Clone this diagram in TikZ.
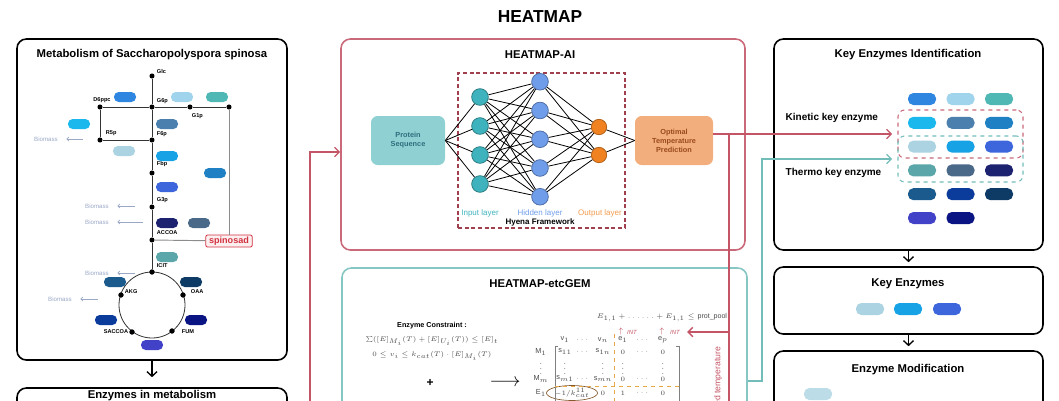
\documentclass[tikz,border=0pt]{standalone}
\usepackage{amsmath}
\usepackage{amssymb}
\usepackage{fontspec}
\setmainfont{Liberation Sans}
\setsansfont{Liberation Sans}
\usepackage{tikz}
\usetikzlibrary{arrows.meta,shapes.geometric}

\newcommand{\fsz}[1]{\fontsize{#1}{\fpeval{1.22*#1}}\selectfont}

\definecolor{aired}{HTML}{C9697A}
\definecolor{gemteal}{HTML}{86C7C3}
\definecolor{lnred}{HTML}{C45566}
\definecolor{lnteal}{HTML}{72BDBA}
\definecolor{psfill}{HTML}{8FD0D2}
\definecolor{pstext}{HTML}{2F6E7E}
\definecolor{optfill}{HTML}{F2AE7C}
\definecolor{opttext}{HTML}{9A4A1E}
\definecolor{inpc}{HTML}{3FB3BD}
\definecolor{hidc}{HTML}{6F9DEA}
\definecolor{outc}{HTML}{F08222}
\definecolor{hyena}{HTML}{A0404E}
\definecolor{bmgray}{HTML}{9AA8C6}
\definecolor{spinred}{HTML}{D2323F}
\definecolor{mtxgray}{HTML}{4A4A4A}
\definecolor{sepor}{HTML}{E6A84A}
% enzyme colours
\definecolor{ez1}{HTML}{2F86E0}
\definecolor{ez2}{HTML}{9FD4EC}
\definecolor{ez3}{HTML}{4FB8B4}
\definecolor{ez4}{HTML}{1AB8EC}
\definecolor{ez5}{HTML}{4A7FAE}
\definecolor{ez6}{HTML}{1F80C4}
\definecolor{ez7}{HTML}{ABD3E2}
\definecolor{ez8}{HTML}{16A2E4}
\definecolor{ez9}{HTML}{3D66DC}
\definecolor{ez10}{HTML}{5AA6A8}
\definecolor{ez11}{HTML}{4A6888}
\definecolor{ez12}{HTML}{1C2170}
\definecolor{ez13}{HTML}{1A5A8C}
\definecolor{ez14}{HTML}{0B3C9C}
\definecolor{ez15}{HTML}{0E3A66}
\definecolor{ez16}{HTML}{4242C8}
\definecolor{ez17}{HTML}{0A1482}

\tikzset{
  panel/.style={draw, line width=1.2pt, rounded corners=7pt, inner sep=0pt},
  ttl/.style={font=\bfseries\fsz{8.5}},
  mpill/.style={rounded corners=3.5pt, minimum width=16.5pt, minimum height=7.5pt, inner sep=0pt},
  gpill/.style={rounded corners=4pt, minimum width=21pt, minimum height=9pt, inner sep=0pt},
  met/.style={circle, fill=black, inner sep=0pt, minimum size=3.8pt},
  mlbl/.style={font=\bfseries\fsz{4.2}, inner sep=0.5pt},
  mline/.style={draw=black!80, line width=0.6pt},
  gline/.style={draw=black!45, line width=0.7pt},
  bmtxt/.style={text=bmgray, font=\fsz{4.6}},
  bmarr/.style={draw=bmgray, line width=0.5pt, -{Straight Barb[length=1.4pt,width=3pt]}, shorten >=3pt},
  nnline/.style={draw=black, line width=0.6pt},
  neuron/.style={circle, draw, line width=0.6pt, inner sep=0pt, minimum size=12.5pt},
  darr/.style={line width=1pt, -{Straight Barb[length=3.5pt,width=7.5pt]}},
  redline/.style={draw=lnred, line width=1pt},
  redarr/.style={draw=lnred, line width=1pt, -{Straight Barb[length=3.5pt,width=7pt]}},
  tealarr/.style={draw=lnteal, line width=1pt, -{Straight Barb[length=3.5pt,width=7pt]}},
  grp/.style={dashed, line width=0.8pt, rounded corners=5pt, minimum width=93.75pt, inner sep=0pt},
  mtx/.style={text=mtxgray, font=\fsz{5.5}, inner sep=0.5pt},
}

\begin{document}
\begin{tikzpicture}[x=0.75pt,y=-0.75pt]
    \useasboundingbox (0,0) rectangle (1059,400);
    \clip (0,0) rectangle (1059,400);

    \node[font=\bfseries\fsz{13}] (title) at (540,17) {HEATMAP};

    % Panels
    \node[panel, minimum width=202.5pt, minimum height=240.75pt] (metab) at (152,199.5) {};
    \node[panel, minimum width=202.5pt, minimum height=99pt] (enzmet) at (152,454) {};
    \node[panel, draw=aired, minimum width=303pt, minimum height=158.25pt] (ai) at (543,144.5) {};
    \node[panel, draw=gemteal, minimum width=303.75pt, minimum height=189pt] (gem) at (544.5,394) {};
    \node[panel, minimum width=201.75pt, minimum height=158.25pt] (kid) at (908.5,144.5) {};
    \node[panel, minimum width=201.75pt, minimum height=50.25pt] (key) at (908.5,300.5) {};
    \node[panel, minimum width=201.75pt, minimum height=96.75pt] (mod) at (908.5,415.5) {};

    \node[ttl] (metab-t) at (152,55) {Metabolism of Saccharopolyspora spinosa};
    \node[ttl] (enzmet-t) at (152,395.5) {Enzymes in metabolism};
    \node[ttl] (ai-t) at (540,55) {HEATMAP-AI};
    \node[ttl] (gem-t) at (540,284) {HEATMAP-etcGEM};
    \node[ttl] (kid-t) at (908,55) {Key Enzymes Identification};
    \node[ttl] (key-t) at (908,284) {Key Enzymes};
    \node[ttl] (mod-t) at (908,370) {Enzyme Modification};

    \draw[darr, shorten >=7.5pt] (metab.south) -- (enzmet.north);
    \draw[darr, shorten >=3pt] (kid.south) -- (key.north);
    \draw[darr, shorten >=3pt] (key.south) -- (mod.north);

    % Metabolic network
    \node[met] (glc) at (152,76) {};
    \node[met] (g6p) at (152,107) {};
    \node[met] (d6ppc) at (100,107) {};
    \node[met] (g1p) at (190,107) {};
    \node[met] (rt) at (229,107) {};
    \node[met] (r5p) at (100,140) {};
    \node[met] (f6p) at (152,140) {};
    \node[met] (fbp) at (152,173) {};
    \node[met] (g3p) at (152,207) {};
    \node[met] (accoa) at (152,240) {};
    \node[met] (icit) at (152,272) {};
    \node[met] (akg) at (121,295) {};
    \node[met] (oaa) at (183,295) {};
    \node[met] (saccoa) at (132,332) {};
    \node[met] (fum) at (172,331) {};
    \coordinate (tca) at (152,305);
    \node[draw=spinred, fill=spinred!8, text=spinred, font=\bfseries\fsz{6.8}, rounded corners=1.5pt,
          inner xsep=2.5pt, inner ysep=1.4pt, line width=0.6pt] (spin) at (229,241) {spinosad};

    \draw[mline] (glc) -- (g6p) -- (f6p) -- (fbp) -- (g3p) -- (accoa) -- (icit);
    \draw[mline] (d6ppc) -- (g6p) -- (g1p) -- (rt);
    \draw[mline] (d6ppc) -- (r5p) -- (f6p);
    \draw[gline] (rt) -- (spin);
    \draw[gline] (accoa) -- (spin);
    \draw[mline] (tca) circle (33);
    \foreach \m in {akg,oaa,saccoa,fum,icit}
        \node[met] at (\m) {};

    \node[mlbl, anchor=west] (l-glc) at (156,71) {Glc};
    \node[mlbl, anchor=west] (l-g6p) at (156,101) {G6p};
    \node[mlbl] (l-d6ppc) at (102,100) {D6ppc};
    \node[mlbl, anchor=west] (l-g1p) at (191,116) {G1p};
    \node[mlbl, anchor=west] (l-r5p) at (105,133) {R5p};
    \node[mlbl, anchor=west] (l-f6p) at (156,134) {F6p};
    \node[mlbl, anchor=west] (l-fbp) at (156,164) {Fbp};
    \node[mlbl, anchor=west] (l-g3p) at (156,200) {G3p};
    \node[mlbl, anchor=west] (l-accoa) at (156,233) {ACCOA};
    \node[mlbl, anchor=west] (l-icit) at (156,266) {ICIT};
    \node[mlbl, anchor=west] (l-akg) at (124,292) {AKG};
    \node[mlbl, anchor=west] (l-oaa) at (190,292) {OAA};
    \node[mlbl, anchor=east] (l-saccoa) at (129,332) {SACCOA};
    \node[mlbl, anchor=west] (l-fum) at (181,332) {FUM};

    % Enzymes on the network
    \foreach \x/\y/\k in {125/97/1, 182/97/2, 217/97/3, 79/124/4, 167/124/5, 215/173/6,
                          124/151/7, 167/156/8, 167/187/9, 167/257/10, 199/223/11, 167/223/12,
                          115/282/13, 106/320/14, 191/282/15, 152/345/16, 196/320/17}
        \node[mpill, fill=ez\k] (m\k) at (\x,\y) {};

    % Biomass drains
    \foreach \tx/\ax/\y [count=\k] in {46/83/139, 97/135/206, 97/143/222, 97/135/273, 60/98/299} {
        \node[bmtxt] (bm\k) at (\tx,\y) {Biomass};
        \coordinate (bms\k) at (\ax,\y);
        \draw[bmarr] (bms\k) -- (bm\k);
    }

    % HEATMAP-AI
    \node[draw=hyena, densely dashed, line width=0.8pt, minimum width=125.25pt, minimum height=116.25pt]
        (hyena) at (541.5,150.5) {};
    \node[fill=psfill, rounded corners=5pt, minimum width=55.5pt, minimum height=36.75pt, align=center,
          text=pstext, font=\bfseries\fsz{5.5}] (ps) at (408,140.5) {Protein\\Sequence};
    \node[fill=optfill, rounded corners=5pt, minimum width=58.5pt, minimum height=36.75pt, align=center,
          text=opttext, font=\bfseries\fsz{5.5}] (opt) at (674,140.5) {Optimal\\Temperature\\Prediction};

    \foreach \k in {1,...,4}
        \node[neuron, fill=inpc, draw=inpc!70!black] (i\k) at (480,68+29*\k) {};
    \foreach \k in {1,...,5}
        \node[neuron, fill=hidc, draw=hidc!70!black] (h\k) at (540,53+28.75*\k) {};
    \foreach \k in {1,2}
        \node[neuron, fill=outc, draw=outc!75!black, minimum size=11.5pt] (o\k) at (599,99+28*\k) {};

    \foreach \a in {1,...,4} {
        \draw[nnline] (ps.east) -- (i\a);
        \foreach \b in {1,...,5}
            \draw[nnline] (i\a) -- (h\b);
    }
    \foreach \b in {1,...,5}
        \foreach \c in {1,2}
            \draw[nnline] (h\b) -- (o\c);
    \foreach \c in {1,2}
        \draw[nnline] (o\c) -- (opt.west);

    \node[text=inpc, font=\fsz{6}] (inl) at (480,213) {Input layer};
    \node[text=hidc, font=\fsz{6}] (hidl) at (540,213) {Hidden layer};
    \node[text=outc!80, font=\fsz{6}] (outl) at (600,213) {Output layer};
    \node[font=\bfseries\fsz{6}] (hyl) at (540,222) {Hyena Framework};

    % HEATMAP-etcGEM
    \node[font=\bfseries\fsz{5.4}] (ec) at (432,326) {Enzyme Constraint :};
    \node[text=mtxgray, font=\fsz{4.5}] (eq1) at (432,341) {$\sum([E]_{M_i}(T)+[E]_{U_i}(T))\le[E]_t$};
    \node[text=mtxgray, font=\fsz{4.5}] (eq2) at (432,356) {$0\le v_i\le k_{cat}(T)\cdot[E]_{M_i}(T)$};
    \node[font=\bfseries\fsz{9}] (plus) at (430,383) {+};
    \node[font=\fsz{14}] (garr) at (505,383) {$\longrightarrow$};

    \node[text=mtxgray, font=\fsz{5.3}] (pool) at (662,318) {$E_{1,1}+\ldots\ldots+E_{1,1}\le\mathrm{prot\_pool}$};
    \node[text=lnred, font=\fsz{6}] (up1) at (621,331) {$\uparrow$};
    \node[text=lnred, font=\itshape\fsz{4.5}] (int1) at (632,332) {INT};
    \node[text=lnred, font=\fsz{6}] (up2) at (662,331) {$\uparrow$};
    \node[text=lnred, font=\itshape\fsz{4.5}] (int2) at (675,332) {INT};

    \foreach \x/\e [count=\k] in {565/{\mathsf{v}_1}, 583/\cdots, 603/{\mathsf{v}_n}, 623/{\mathsf{e}_1}, 643/\cdots, 663/{\mathsf{e}_p}}
        \node[mtx] (hd\k) at (\x,340) {$\e$};
    \foreach \x/\e [count=\k] in {541/{\mathsf{M}_1}, 565/{\mathsf{s}_{11}}, 583/\cdots, 603/{\mathsf{s}_{1n}}, 623/0, 643/\cdots, 663/0}
        \node[mtx] (ra\k) at (\x,352) {$\e$};
    \foreach \x [count=\k] in {541,565,603,623,663}
        \node[mtx] (rb\k) at (\x,365) {$\vdots$};
    \foreach \x/\e [count=\k] in {541/{\mathsf{M}_m}, 565/{\mathsf{s}_{m1}}, 583/\cdots, 603/{\mathsf{s}_{mn}}, 623/0, 643/\cdots, 663/0}
        \node[mtx] (rc\k) at (\x,379) {$\e$};
    \foreach \x/\e [count=\k] in {541/{\mathsf{E}_1}, 603/0, 623/1, 643/\cdots, 663/0}
        \node[mtx] (rd\k) at (\x,393) {$\e$};
    \node[mtx, ellipse, draw=brown!70!black, line width=0.5pt, inner sep=0.3pt] (kcat) at (572,393) {$-1/k_{cat}^{11}$};

    % Matrix brackets and blocks
    \draw[mtxgray!70, line width=0.5pt] (558,346) -- (555,346) -- (555,410);
    \draw[mtxgray!70, line width=0.5pt] (676,346) -- (679,346) -- (679,410);
    \draw[sepor, dashed, line width=0.6pt] (614,334) -- (614,410);
    \draw[sepor, dashed, line width=0.6pt] (555,386) -- (679,386);

    % Key enzyme grid
    \foreach \k in {1,...,17} {
        \pgfmathtruncatemacro{\gr}{(\k-1)/3}
        \pgfmathtruncatemacro{\gc}{\k-1-3*\gr}
        \node[gpill, fill=ez\k] (g\k) at (922+38.5*\gc,99+23.8*\gr) {};
    }
    \node[grp, draw=aired, minimum height=36pt] (kgrp) at (960.5,134) {};
    \node[grp, draw=lnteal, minimum height=34.5pt] (tgrp) at (960.5,159) {};
    \node[font=\bfseries\fsz{7.5}, anchor=west] (kin-l) at (781,118) {Kinetic key enzyme};
    \node[font=\bfseries\fsz{7.5}, anchor=west] (thm-l) at (781,173) {Thermo key enzyme};

    \foreach \x/\k in {870/7, 908/8, 947/9}
        \node[gpill, fill=ez\k] (k\k) at (\x,309) {};
    \node[gpill, fill=ez7!80!white] (mod1) at (818,394) {};

    % Connectors between the panels
    \coordinate (rin) at (310,420);
    \coordinate (rbend) at (310,152);
    \draw[redarr] (rin) -- (rbend) -- (rbend -| ai.west);

    \coordinate (rsplit) at (729,134);
    \coordinate (rbot) at (729,420);
    \draw[redline] (rsplit) -- (rbot);
    \draw[redarr, shorten >=2pt] (rsplit |- int2) -- (int2.east);
    \draw[redarr, shorten >=4pt] (opt.east |- kgrp.west) -- (kgrp.west);
    \node[rotate=90, anchor=east, text=lnred, font=\fsz{6.5}] (temp) at (718,342) {Predicted temperature};

    \coordinate (tcorner) at (762,381);
    \draw[tealarr, shorten >=4pt] (tcorner -| gem.east) -- (tcorner) |- (tgrp.west);
\end{tikzpicture}
\end{document}
